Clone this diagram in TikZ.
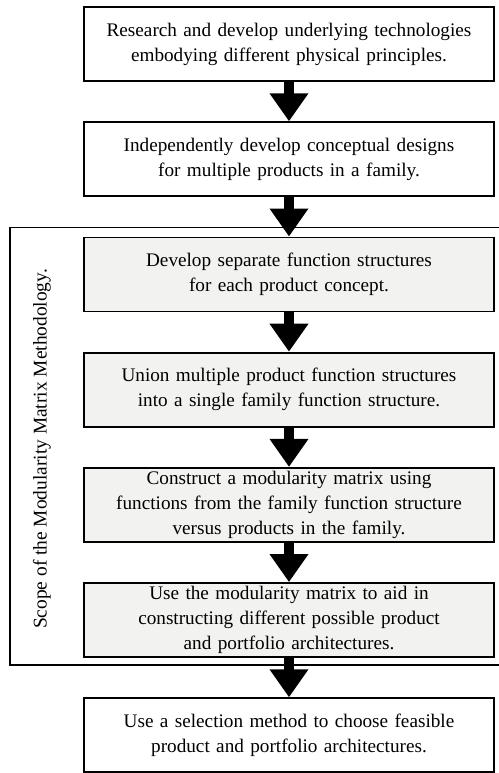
\documentclass[tikz,border=0pt]{standalone}
\usepackage{fontspec}
\setmainfont{Liberation Serif}
\usepackage{tikz}
\usetikzlibrary{arrows.meta, positioning}
\definecolor{myshade}{RGB}{242,242,240}
\tikzset{
  stepbox/.style={rectangle, draw=black, fill=white,
    text width=203pt, align=center, minimum width=205pt, minimum height=37pt,
    inner xsep=1pt, inner ysep=0pt, line width=0.9pt,
    font=\fontsize{9.6}{12.5}\selectfont},
  scopestep/.style={stepbox, fill=myshade},
  bigarrow/.style={-{Triangle[width=18.5pt,length=14pt]}, line width=5pt, color=black},
  frame/.style={line width=0.8pt}
}

\begin{document}
\begin{tikzpicture}[node distance=19.7pt]
  \useasboundingbox (0,0) rectangle (249.5pt,-386.5pt);

  \node[stepbox] (research) at (144.5pt,-22pt)
    {Research and develop underlying technologies\\embodying different physical principles.};
  \node[stepbox, below=of research] (concept)
    {Independently develop conceptual designs\\for multiple products in a family.};
  \node[scopestep, below=of concept] (separate)
    {Develop separate function structures\\for each product concept.};
  \node[scopestep, below=of separate] (union)
    {Union multiple product function structures\\into a single family function structure.};
  \node[scopestep, below=of union] (matrix)
    {Construct a modularity matrix using\\functions from the family function structure\\versus products in the family.};
  \node[scopestep, below=of matrix] (architect)
    {Use the modularity matrix to aid in\\constructing different possible product\\and portfolio architectures.};
  \node[stepbox, below=of architect] (select)
    {Use a selection method to choose feasible\\product and portfolio architectures.};

  % scope frame, open at the right edge
  \coordinate (leftedge) at (5pt,0);
  \coordinate (rightedge) at (249.5pt,0);
  \path (separate.north) ++(0,4.5pt) coordinate (scopetop);
  \path (architect.south) ++(0,-3.5pt) coordinate (scopebot);
  \draw[frame] (scopetop -| rightedge) -- (scopetop -| leftedge)
    -- (scopebot -| leftedge) -- (scopebot -| rightedge);
  \node[rotate=90, font=\fontsize{9.7}{12}\selectfont] (scopelabel) at (21pt,-224.5pt)
    {Scope of the Modularity Matrix Methodology.};

  \foreach \a/\b in {research/concept, concept/separate, separate/union,
    union/matrix, matrix/architect, architect/select}
    \draw[bigarrow] (\a.south) -- (\b.north);
\end{tikzpicture}
\end{document}
